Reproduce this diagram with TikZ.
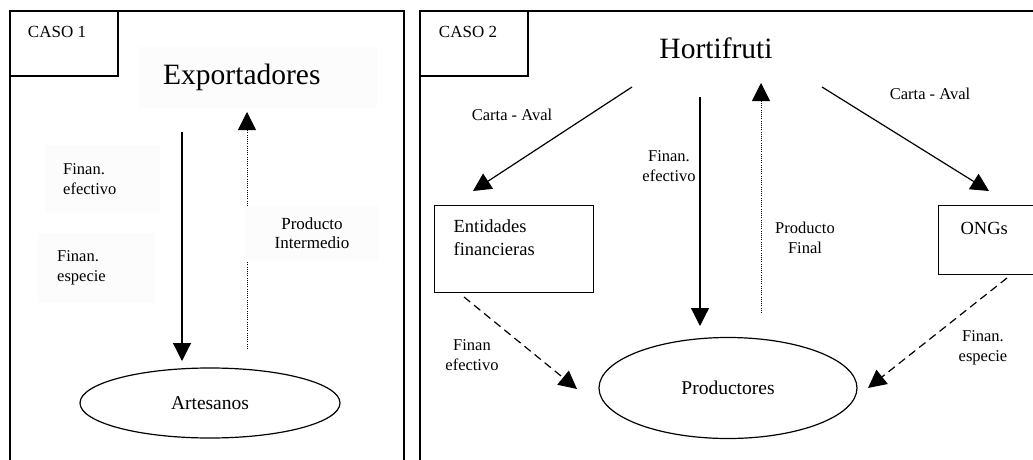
\documentclass[tikz,border=0pt]{standalone}
\usepackage{fontspec}
\setmainfont{Liberation Serif}
\usetikzlibrary{arrows.meta,shapes.geometric}
\tikzset{
  frame/.style={line width=1.3pt},
  tip/.style={-{Triangle[width=18pt,length=18pt]}},
  solidarr/.style={line width=1.2pt,tip},
  dottedarr/.style={line width=0.8pt,dash pattern=on 1pt off 1.2pt,tip},
  dashedarr/.style={line width=1.2pt,dash pattern=on 8pt off 5pt,tip},
  lblfont/.style={font=\fontsize{16.5}{20}\selectfont},
  lbl/.style={lblfont,align=center,inner sep=0pt},
  bgbox/.style={fill=black!1.2,inner ysep=0pt},
  boxnode/.style={draw,line width=1.2pt,inner ysep=0pt,font=\fontsize{18.5}{23}\selectfont},
  caso/.style={font=\fontsize{17}{20}\selectfont,inner sep=0pt},
  bigtitle/.style={font=\fontsize{29.5}{34}\selectfont},
  oval/.style={ellipse,draw,line width=1.2pt,inner sep=0pt,font=\fontsize{19.5}{23}\selectfont}
}
\begin{document}
\begin{tikzpicture}[x=1pt,y=-1pt]
\useasboundingbox (0,0) rectangle (1033,460);

% ---------------- CASO 1 ----------------
\draw[frame] (10,460) -- (10,11) -- (404,11) -- (404,460);
\draw[frame] (10,11) rectangle (118,76);
\node[caso] (caso1) at (57,32) {CASO 1};

\node[bgbox,bigtitle,anchor=north west,minimum width=239pt,minimum height=61pt,
      text width=189pt,inner xsep=25pt,align=left] (exp) at (138,47) {Exportadores};
\node[oval,minimum width=260pt,minimum height=70pt] (art) at (210,403) {Artesanos};

\node[bgbox,lblfont,anchor=north west,minimum width=115pt,minimum height=68pt,
      text width=79pt,inner xsep=18pt,align=left] (fe1) at (45,145) {Finan.\\efectivo};
\node[bgbox,lblfont,anchor=north west,minimum width=117pt,minimum height=70pt,
      text width=79pt,inner xsep=19pt,align=left] (fs1) at (38,233) {Finan.\\especie};

\coordinate (l1s) at (182,132);
\coordinate (l1e) at (182,361);
\coordinate (l2s) at (247,349);
\coordinate (l2e) at (247,112);
\draw[solidarr] (l1s) -- (l1e);
\draw[dottedarr] (l2s) -- (l2e);

\node[bgbox,font=\fontsize{17}{19}\selectfont,align=center,minimum width=134pt,
      minimum height=55pt] (pi) at (312,233) {Producto\\Intermedio};

% ---------------- CASO 2 ----------------
\draw[frame] (420,460) -- (420,11) -- (1033,11);
\draw[frame] (420,11) rectangle (528,76);
\node[caso] (caso2) at (468,32) {CASO 2};

\node[bigtitle] (hort) at (716,48) {Hortifruti};

\node[boxnode,anchor=north west,minimum width=159pt,minimum height=87pt,
      text width=121pt,inner xsep=19pt,align=left] (ent) at (434,205) {Entidades\\financieras\\\mbox{}};
\node[boxnode,anchor=north west,minimum width=112pt,minimum height=69pt,
      text width=68pt,inner xsep=22pt,align=left] (ong) at (938,205) {ONGs\\\mbox{}};
\node[oval,minimum width=258pt,minimum height=101pt] (prod) at (728,388) {Productores};

\coordinate (r1s) at (632,87);   \coordinate (r1e) at (473,191);
\coordinate (r2s) at (822,87);   \coordinate (r2e) at (989,191);
\coordinate (r3s) at (700,97);   \coordinate (r3e) at (700,326);
\coordinate (r4s) at (761,313);  \coordinate (r4e) at (761,83);
\coordinate (r5s) at (464,297);  \coordinate (r5e) at (577,389);
\coordinate (r6s) at (1007,278); \coordinate (r6e) at (868,388);

\draw[solidarr] (r1s) -- (r1e);
\draw[solidarr] (r2s) -- (r2e);
\draw[solidarr] (r3s) -- (r3e);
\draw[dottedarr] (r4s) -- (r4e);
\draw[dashedarr] (r5s) -- (r5e);
\draw[dashedarr] (r6s) -- (r6e);

\node[lbl] (ca1) at (512,115) {Carta - Aval};
\node[lbl] (ca2) at (930,94) {Carta - Aval};
\node[lbl] (fe2) at (669,166) {Finan.\\efectivo};
\node[lbl] (pf) at (805,238) {Producto\\Final};
\node[lbl] (fe3) at (472,355) {Finan\\efectivo};
\node[lbl] (fs2) at (983,348) {Finan.\\especie};
\end{tikzpicture}
\end{document}
